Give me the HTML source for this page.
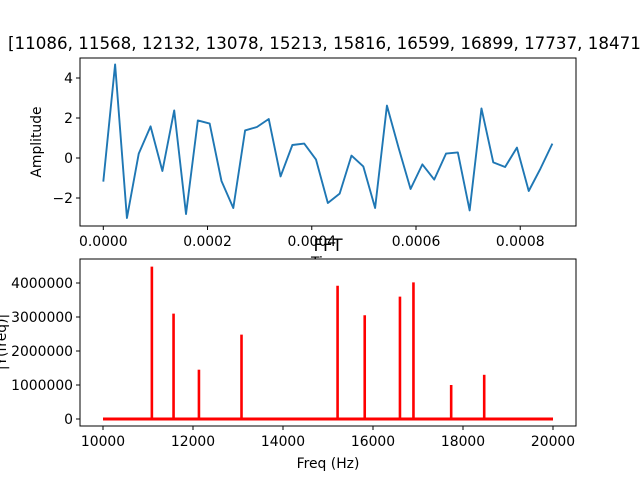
<!DOCTYPE html>
<html><head><meta charset="utf-8"><style>
html,body{margin:0;padding:0;background:#fff;}
svg{display:block;font-family:"DejaVu Sans","Liberation Sans",sans-serif;}
</style></head><body>
<svg id="chart" width="640" height="480" viewBox="0 0 640 480" xmlns="http://www.w3.org/2000/svg">
<rect width="640" height="480" fill="#fff"/>
<text x="8" y="49" font-size="16.7" fill="#000">[11086, 11568, 12132, 13078, 15213, 15816, 16599, 16899, 17737, 18471]</text>
<g id="topg"></g>
<text x="328" y="267" font-size="13.9" text-anchor="middle">Time</text>
<text x="328" y="251" font-size="16.7" text-anchor="middle">FFT</text>
<g id="botg"></g>
</svg>
<script>
const ampValues=[-1.18,4.68,-3.0,0.22,1.58,-0.65,2.38,-2.8,1.88,1.72,-1.15,-2.5,1.38,1.55,1.95,-0.92,0.65,0.72,-0.08,-2.25,-1.78,0.12,-0.42,-2.5,2.62,0.48,-1.55,-0.32,-1.08,0.22,0.28,-2.62,2.48,-0.22,-0.45,0.52,-1.65,-0.52,0.72];
const timeTicks=[0,0.0002,0.0004,0.0006,0.0008];
const timeTickLabels=["0.0000","0.0002","0.0004","0.0006","0.0008"];
const ampTicks=[-2,0,2,4];
const peakFreqs=[11086,11568,12132,13078,15213,15816,16599,16899,17737,18471];
const peakMags=[4480000,3100000,1450000,2480000,3920000,3050000,3600000,4020000,1000000,1300000];
const freqTicks=[10000,12000,14000,16000,18000,20000];
const magTicks=[0,1000000,2000000,3000000,4000000];
const sampleRate=44100;
const NS="http://www.w3.org/2000/svg";
function mk(p,tag,a){const e=document.createElementNS(NS,tag);for(const k in a)e.setAttribute(k,a[k]);p.appendChild(e);return e;}
const T={x0:80,x1:576,y0:58,y1:226,xmin:-0.0000447,xmax:0.000907,ymin:-3.4,ymax:5.0};
const tx=v=>T.x0+(v-T.xmin)/(T.xmax-T.xmin)*(T.x1-T.x0);
const ty=v=>T.y1-(v-T.ymin)/(T.ymax-T.ymin)*(T.y1-T.y0);
const topG=document.getElementById('topg');
let pts=ampValues.map((v,i)=>tx(i/sampleRate).toFixed(2)+","+ty(v).toFixed(2)).join(" ");
const ln=mk(topG,'polyline',{points:pts,fill:'none',stroke:'#1f77b4','stroke-width':1.9,'stroke-linejoin':'round'});


const fr=mk(topG,'rect',{x:T.x0,y:T.y0,width:T.x1-T.x0,height:T.y1-T.y0,fill:'none',stroke:'#000','stroke-width':1});


timeTicks.forEach((t,i)=>{const x=tx(t);mk(topG,'line',{x1:x,x2:x,y1:T.y1,y2:T.y1+4,stroke:'#000'});
 const l=mk(topG,'text',{x:x,y:T.y1+20,'font-size':13.9,'text-anchor':'middle'});l.textContent=timeTickLabels[i];
 
 });
ampTicks.forEach(v=>{const y=ty(v);mk(topG,'line',{x1:T.x0-4,x2:T.x0,y1:y,y2:y,stroke:'#000'});
 const l=mk(topG,'text',{x:T.x0-7,y:y+5,'font-size':13.9,'text-anchor':'end'});l.textContent=String(v).replace('-','\u2212');
 
 });
const yl=mk(topG,'text',{x:0,y:0,'font-size':13.9,'text-anchor':'middle',transform:'translate(41,142) rotate(-90)'});yl.textContent='Amplitude';


const B={x0:80,x1:576,y0:259,y1:426,xmin:9489,xmax:20511,ymin:-206000,ymax:4706000};
const bx=v=>B.x0+(v-B.xmin)/(B.xmax-B.xmin)*(B.x1-B.x0);
const by=v=>B.y1-(v-B.ymin)/(B.ymax-B.ymin)*(B.y1-B.y0);
const botG=document.getElementById('botg');
mk(botG,'rect',{x:B.x0,y:B.y0,width:B.x1-B.x0,height:B.y1-B.y0,fill:'#fff'});
const base=mk(botG,'line',{x1:bx(10000),x2:bx(20000),y1:by(0),y2:by(0),stroke:'#ff0000','stroke-width':3});


peakFreqs.forEach((f,i)=>{const s=mk(botG,'line',{x1:bx(f),x2:bx(f),y1:by(0),y2:by(peakMags[i]),stroke:'#ff0000','stroke-width':2.6});
 
 });
const fr2=mk(botG,'rect',{x:B.x0,y:B.y0,width:B.x1-B.x0,height:B.y1-B.y0,fill:'none',stroke:'#000','stroke-width':1});


freqTicks.forEach(t=>{const x=bx(t);mk(botG,'line',{x1:x,x2:x,y1:B.y1,y2:B.y1+4,stroke:'#000'});
 const l=mk(botG,'text',{x:x,y:B.y1+20,'font-size':13.9,'text-anchor':'middle'});l.textContent=String(t);
 
 });
magTicks.forEach(v=>{const y=by(v);mk(botG,'line',{x1:B.x0-4,x2:B.x0,y1:y,y2:y,stroke:'#000'});
 const l=mk(botG,'text',{x:B.x0-7,y:y+5,'font-size':13.9,'text-anchor':'end'});l.textContent=String(v);
 
 });
const xl=mk(botG,'text',{x:328,y:468,'font-size':13.9,'text-anchor':'middle'});xl.textContent='Freq (Hz)';


const yl2=mk(botG,'text',{x:0,y:0,'font-size':13.9,'text-anchor':'middle',transform:'translate(6,342) rotate(-90)'});yl2.textContent='|Y(freq)|';


</script>
</body></html>
